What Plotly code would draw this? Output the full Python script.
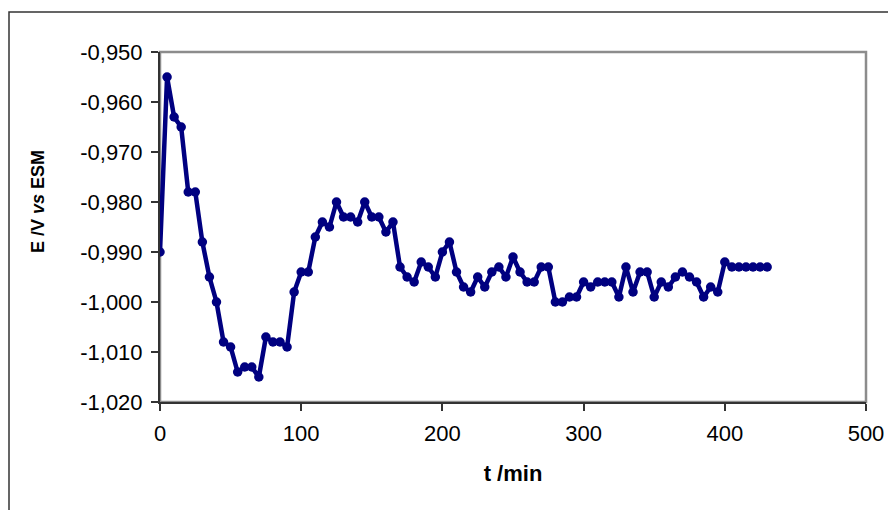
import plotly.graph_objects as go

time_min = [0, 5, 10, 15, 20, 25, 30, 35, 40, 45, 50, 55, 60, 65, 70, 75, 80, 85, 90, 95,
            100, 105, 110, 115, 120, 125, 130, 135, 140, 145, 150, 155, 160, 165, 170, 175,
            180, 185, 190, 195, 200, 205, 210, 215, 220, 225, 230, 235, 240, 245, 250, 255,
            260, 265, 270, 275, 280, 285, 290, 295, 300, 305, 310, 315, 320, 325, 330, 335,
            340, 345, 350, 355, 360, 365, 370, 375, 380, 385, 390, 395, 400, 405, 410, 415,
            420, 425, 430]

potential_V = [-0.990, -0.955, -0.963, -0.965, -0.978, -0.978, -0.988, -0.995, -1.000, -1.008,
               -1.009, -1.014, -1.013, -1.013, -1.015, -1.007, -1.008, -1.008, -1.009, -0.998,
               -0.994, -0.994, -0.987, -0.984, -0.985, -0.980, -0.983, -0.983, -0.984, -0.980,
               -0.983, -0.983, -0.986, -0.984, -0.993, -0.995, -0.996, -0.992, -0.993, -0.995,
               -0.990, -0.988, -0.994, -0.997, -0.998, -0.995, -0.997, -0.994, -0.993, -0.995,
               -0.991, -0.994, -0.996, -0.996, -0.993, -0.993, -1.000, -1.000, -0.999, -0.999,
               -0.996, -0.997, -0.996, -0.996, -0.996, -0.999, -0.993, -0.998, -0.994, -0.994,
               -0.999, -0.996, -0.997, -0.995, -0.994, -0.995, -0.996, -0.999, -0.997, -0.998,
               -0.992, -0.993, -0.993, -0.993, -0.993, -0.993, -0.993]

y_tick_vals = [-0.950, -0.960, -0.970, -0.980, -0.990, -1.000, -1.010, -1.020]
y_tick_text = ["-0,950", "-0,960", "-0,970", "-0,980", "-0,990", "-1,000", "-1,010", "-1,020"]
x_tick_vals = [0, 100, 200, 300, 400, 500]
x_tick_text = ["0", "100", "200", "300", "400", "500"]

FONT = "Liberation Sans, Arial, sans-serif"

fig = go.Figure()
fig.add_trace(go.Scatter(
    x=time_min, y=potential_V, mode="lines+markers",
    line=dict(color="#000080", width=4.5),
    marker=dict(color="#000080", size=9.5),
    showlegend=False,
))

# page body has an 8px margin, so the figure is laid out 8px smaller
OFF = 8
W, H = 896 - OFF, 510 - OFF
L, T = 160 - OFF, 52 - OFF
pw, ph = 706, 350
R, B = W - L - pw, H - T - ph

def px(xp):
    return (xp - OFF - L) / pw

def py(yp):
    return (H - B - (yp - OFF)) / ph

fig.update_layout(
    width=W, height=H,
    margin=dict(l=L, r=R, t=T, b=B),
    paper_bgcolor="white", plot_bgcolor="white",
    font=dict(family=FONT, size=22, color="black"),
    xaxis=dict(
        range=[0, 500], tickvals=x_tick_vals, ticktext=x_tick_text,
        ticks="outside", ticklen=7, tickcolor="#333333", tickwidth=1.5,
        ticklabelstandoff=4,
        showline=True, linecolor="#333333", linewidth=2,
        showgrid=False, zeroline=False,
        title=dict(text="<b>t /min</b>", font=dict(size=22), standoff=20),
    ),
    yaxis=dict(
        range=[-1.020, -0.950], tickvals=y_tick_vals, ticktext=y_tick_text,
        ticks="outside", ticklen=7, tickcolor="#333333", tickwidth=1.5,
        ticklabelstandoff=4,
        showline=True, linecolor="#333333", linewidth=2,
        showgrid=False, zeroline=False,
    ),
    annotations=[
        dict(text="<b>E /V <i>vs</i> ESM</b>", xref="paper", yref="paper",
             x=px(38), y=py(202), xanchor="center", yanchor="middle",
             textangle=-90, showarrow=False, font=dict(size=18)),
    ],
    shapes=[
        dict(type="rect", xref="paper", yref="paper",
             x0=0, x1=1, y0=0, y1=1,
             line=dict(color="#8c8c8c", width=2.5), layer="below"),
        dict(type="rect", xref="paper", yref="paper",
             x0=px(9), x1=px(905), y0=py(520), y1=py(12),
             line=dict(color="#333333", width=1.5), layer="below"),
    ],
)

fig.write_html("out.html")
